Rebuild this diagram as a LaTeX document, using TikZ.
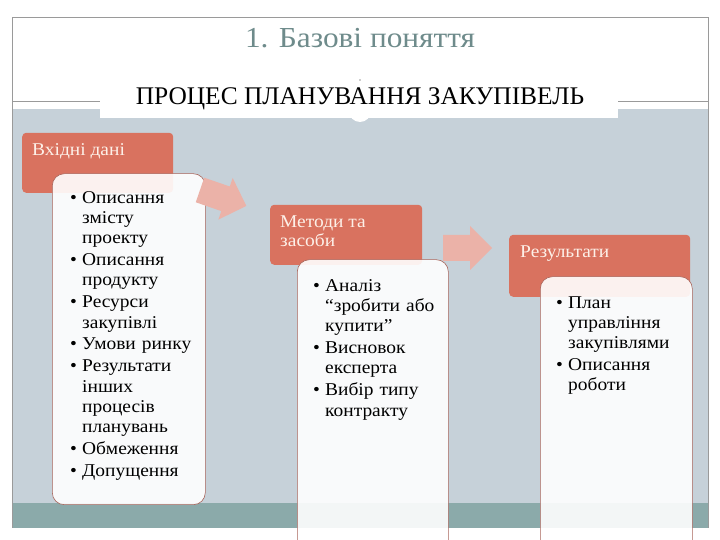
\documentclass[tikz,border=0pt]{standalone}
\usepackage{fontspec}
\setmainfont{Liberation Serif}
\newfontfamily\wideserif[FakeStretch=1.08]{Liberation Serif}
\definecolor{slidebg}{HTML}{C6D1D9}
\definecolor{bandteal}{HTML}{8BAAAA}
\definecolor{hdrred}{HTML}{D9725F}
\definecolor{hdrtxt}{HTML}{FDF0E8}
\definecolor{arrowpink}{HTML}{EBB2A8}
\definecolor{boxline}{HTML}{A8645A}
\definecolor{titlecol}{HTML}{6E8B8B}
\definecolor{framegray}{HTML}{9A9A9A}
\def\nl{\hfil\break}
\newcommand\blt[1]{\par\hangindent=12pt\hangafter=1\noindent\makebox[12pt][l]{\textbullet}#1\par}
\begin{document}
\begin{tikzpicture}[x=1pt,y=1pt,
  hdr/.style={fill=hdrred, rounded corners=4pt, draw=none, inner sep=0pt},
  bodybox/.style={fill=white, fill opacity=0.9, draw=boxline, draw opacity=1, line width=0.6pt, rounded corners=12pt, inner sep=0pt},
  hdrtext/.style={text=hdrtxt, font=\wideserif\fontsize{18}{19}\selectfont, anchor=north west, align=left, inner sep=0pt},
  listtext/.style={text=black, font=\wideserif\fontsize{18}{20.3}\selectfont\setlength{\parskip}{1.6pt}, anchor=north west, align=left, inner sep=0pt, text width=150pt},
  bigarrow/.style={fill=arrowpink, draw=none}]
\useasboundingbox (0,0) rectangle (720,540);
\clip (0,0) rectangle (720,540);
% background
\fill[white] (0,0) rectangle (720,540);
\fill[slidebg] (12,37) rectangle (708,431);
\fill[bandteal] (12,12) rectangle (708,37);
\draw[framegray, line width=0.6pt] (12,12) -- (12,523) -- (708,523) -- (708,12);
\draw[framegray, line width=0.8pt] (12,439) -- (100,439);
\draw[framegray, line width=0.8pt] (618,439) -- (708,439);
% banner
\fill[white] (100,422) rectangle (618,456);
\fill[white] (360,429) circle (11);
\fill[framegray] (360,460) circle (0.8);
\node[inner sep=0pt, font=\fontsize{25.4}{28}\selectfont] (banner) at (360,441) {ПРОЦЕС ПЛАНУВАННЯ ЗАКУПІВЕЛЬ};
\node[inner sep=0pt, text=titlecol, font=\wideserif\fontsize{29}{32}\selectfont] (title) at (360,502) {1. Базові поняття};
% column 1
\node[hdr, anchor=south west, minimum width=151pt, minimum height=60pt] (h1) at (22,347) {};
\node[hdrtext] (h1t) at (32,397) {Вхідні дані};
\node[bodybox, anchor=south west, minimum width=153pt, minimum height=331pt] (b1) at (52,35) {};
\node[listtext] (l1) at (70,359) {%
\blt{Описання\nl змісту\nl проекту}%
\blt{Описання\nl продукту}%
\blt{Ресурси\nl закупівлі}%
\blt{Умови ринку}%
\blt{Результати\nl інших\nl процесів\nl планувань}%
\blt{Обмеження}%
\blt{Допущення}};
% column 2
\node[hdr, anchor=south west, minimum width=152pt, minimum height=60pt] (h2) at (270,275) {};
\node[hdrtext] (h2t) at (280,324) {Методи та\\засоби};
\node[bodybox, anchor=south west, minimum width=151pt, minimum height=300pt] (b2) at (297,-20) {};
\node[listtext] (l2) at (313,271) {%
\blt{Аналіз\nl “зробити або\nl купити”}%
\blt{Висновок\nl експерта}%
\blt{Вибір типу\nl контракту}};
% column 3
\node[hdr, anchor=south west, minimum width=181pt, minimum height=62pt] (h3) at (509,243) {};
\node[hdrtext] (h3t) at (520,294) {Результати};
\node[bodybox, anchor=south west, minimum width=152pt, minimum height=283pt] (b3) at (540,-20) {};
\node[listtext] (l3) at (556,254) {%
\blt{План\nl управління\nl закупівлями}%
\blt{Описання\nl роботи}};
% arrows
\begin{scope}[shift={(200,350)}, rotate=-19]
\fill[bigarrow] (0,13) -- (27,13) -- (27,22) -- (49,0) -- (27,-22) -- (27,-13) -- (0,-13) -- cycle;
\end{scope}
\begin{scope}[shift={(443,292)}]
\fill[bigarrow] (0,13) -- (27,13) -- (27,22) -- (49,0) -- (27,-22) -- (27,-13) -- (0,-13) -- cycle;
\end{scope}
\end{tikzpicture}
\end{document}
